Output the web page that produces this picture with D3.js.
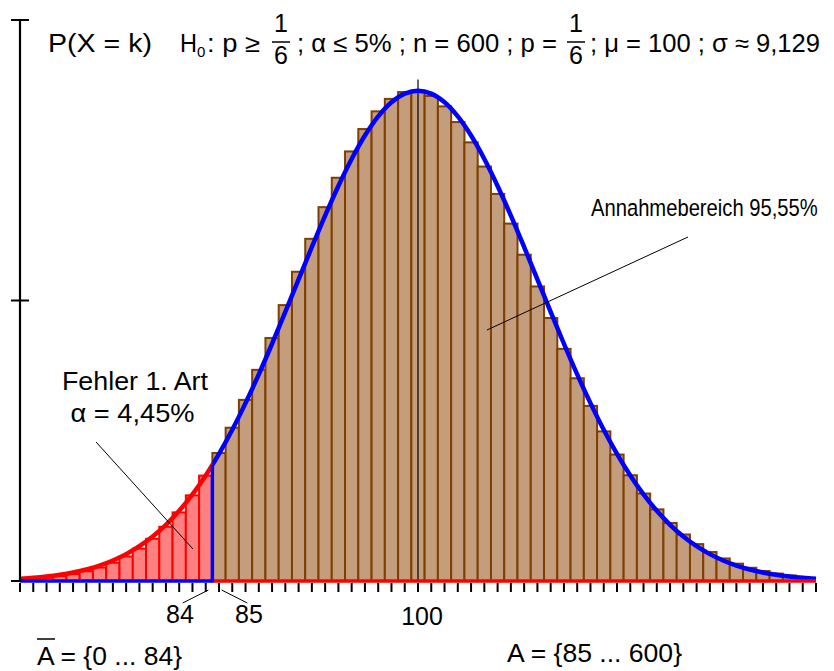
<!DOCTYPE html>
<html><head><meta charset="utf-8">
<script src="https://cdn.jsdelivr.net/npm/d3@7"></script>
<style>
body{margin:0;background:#fff}
svg{display:block}
text{font-family:"Liberation Sans",Arial,Helvetica,sans-serif;fill:#000}
</style>
</head><body>
<svg id="chart" width="834" height="671"></svg>
<script>
// ---------- data ----------
const kValues = [70,71,72,73,74,75,76,77,78,79,80,81,82,83,84,85,86,87,88,89,90,91,92,93,94,95,96,97,98,99,100,
  101,102,103,104,105,106,107,108,109,110,111,112,113,114,115,116,117,118,119,120,121,122,123,124,125,126,127,128,129,130];
// P(X = k)
const probabilities = [0.000137,0.000204,0.000299,0.000433,0.000617,0.000866,0.001197,0.001629,0.002185,0.002888,
  0.003762,0.004830,0.006114,0.007632,0.009394,0.011406,0.013661,0.016142,0.018820,0.021654,
  0.024589,0.027561,0.030497,0.033317,0.035940,0.038286,0.040280,0.041858,0.042969,0.043577,
  0.043664,0.043232,0.042300,0.040904,0.039095,0.036936,0.034497,0.031853,0.029081,0.026253,
  0.023437,0.020692,0.018069,0.015607,0.013334,0.011270,0.009424,0.007797,0.006383,0.005171,
  0.004145,0.003289,0.002583,0.002008,0.001545,0.001177,0.000887,0.000662,0.000489,0.000358,0.000259];
// smooth approximation curve (values at each k)
const curveValues = [0.000197,0.000281,0.000396,0.000551,0.000757,0.001028,0.001379,0.001828,0.002395,0.003100,
  0.003965,0.005010,0.006255,0.007717,0.009406,0.011329,0.013482,0.015854,0.018419,0.021145,
  0.023984,0.026880,0.029767,0.032570,0.035212,0.037615,0.039702,0.041405,0.042666,0.043441,
  0.043702,0.043441,0.042666,0.041405,0.039702,0.037615,0.035212,0.032570,0.029767,0.026880,
  0.023984,0.021145,0.018419,0.015854,0.013482,0.011329,0.009406,0.007717,0.006255,0.005010,
  0.003965,0.003100,0.002395,0.001828,0.001379,0.001028,0.000757,0.000551,0.000396,0.000281,0.000197];
const xTickValues = kValues;
const yTickValues = [0, 0.025, 0.05];
const criticalBoundary = 84.5;      // between 84 and 85
const boundaryDensity = 0.01034;
const muValue = 100;
const muLineTop = 0.0447;
const lastRejected = 84;
const tickLabels = ["84", "85", "100"];

// ---------- scales ----------
const svg = d3.select("#chart");
const x = d3.scaleLinear().domain([70, 130]).range([20, 816]);
const y = d3.scaleLinear().domain([0, 0.05]).range([581, 20]);

const data = kValues.map((k, i) => ({k, p: probabilities[i], c: curveValues[i]}));

const defs = svg.append("defs");
defs.append("clipPath").attr("id", "plotClip").append("rect")
  .attr("x", x(70)).attr("y", 0).attr("width", x(130) - x(70)).attr("height", 671);
defs.append("clipPath").attr("id", "leftClip").append("rect")
  .attr("x", 0).attr("y", 0).attr("width", x(criticalBoundary)).attr("height", 671);
defs.append("clipPath").attr("id", "rightClip").append("rect")
  .attr("x", x(criticalBoundary)).attr("y", 0).attr("width", 834 - x(criticalBoundary)).attr("height", 671);

// ---------- bars ----------
const bars = svg.append("g").attr("clip-path", "url(#plotClip)");
bars.selectAll("rect").data(data).join("rect")
  .attr("x", d => x(d.k - 0.5))
  .attr("width", d => x(d.k + 0.5) - x(d.k - 0.5))
  .attr("y", d => y(d.p))
  .attr("height", d => y(0) - y(d.p))
  .attr("fill", d => d.k <= lastRejected ? "#FF8080" : "#C49E7C")
  .attr("stroke", d => d.k <= lastRejected ? "#FF0000" : "#7F3F00")
  .attr("stroke-width", 2);

// mu line
svg.append("line")
  .attr("x1", x(muValue)).attr("x2", x(muValue))
  .attr("y1", y(0)).attr("y2", y(muLineTop))
  .attr("stroke", "#000").attr("stroke-width", 1.2);

// ---------- curves ----------
const line = d3.line().x(d => x(d.k)).y(d => y(d.c)).curve(d3.curveCatmullRom);
svg.append("path").datum(data).attr("d", line)
  .attr("fill", "none").attr("stroke", "#FF0000").attr("stroke-width", 4.5)
  .attr("clip-path", "url(#leftClip)");
svg.append("path").datum(data).attr("d", line)
  .attr("fill", "none").attr("stroke", "#0000FF").attr("stroke-width", 4.5)
  .attr("clip-path", "url(#rightClip)");

// baselines
svg.append("line").attr("x1", x(70)).attr("x2", x(criticalBoundary))
  .attr("y1", y(0)).attr("y2", y(0)).attr("stroke", "#0000FF").attr("stroke-width", 3.5);
svg.append("line").attr("x1", x(criticalBoundary)).attr("x2", x(130))
  .attr("y1", y(0)).attr("y2", y(0)).attr("stroke", "#FF0000").attr("stroke-width", 3.5);
svg.append("line").attr("x1", x(criticalBoundary)).attr("x2", x(criticalBoundary))
  .attr("y1", y(0) + 1.5).attr("y2", y(boundaryDensity)).attr("stroke", "#0000FF").attr("stroke-width", 3.5);

// ---------- axes ----------
svg.append("line").attr("x1", x(70)).attr("x2", x(70))
  .attr("y1", y(0.05)).attr("y2", y(0) + 1).attr("stroke", "#000").attr("stroke-width", 2.2);
svg.selectAll(".ytick").data(yTickValues).join("line").attr("class", "ytick")
  .attr("x1", 11).attr("x2", d => d === 0 ? x(70) : 29)
  .attr("y1", d => y(d)).attr("y2", d => y(d))
  .attr("stroke", "#000").attr("stroke-width", 2);
svg.selectAll(".xtick").data(xTickValues).join("line").attr("class", "xtick")
  .attr("x1", d => x(d)).attr("x2", d => x(d))
  .attr("y1", y(0) + 2).attr("y2", y(0) + 11)
  .attr("stroke", "#000").attr("stroke-width", 2);

// ---------- texts ----------
const fs = 25;
function txt(s, xx, yy, opts = {}) {
  const t = svg.append("text").attr("x", xx).attr("y", yy).attr("font-size", opts.size || fs).text(s);
  if (opts.anchor) t.attr("text-anchor", opts.anchor);
  if (opts.len) t.attr("textLength", opts.len).attr("lengthAdjust", "spacingAndGlyphs");
  return t;
}
// title
const tb = 52;
txt("P(X = k)", 48, tb, {len: 104});
txt("H", 180, tb, {len: 17});
txt("0", 197, tb + 5, {size: 15});
txt(": p ≥", 207, tb, {len: 53});
function frac(cx) {
  txt("1", cx, tb - 20, {anchor: "middle"});
  txt("6", cx, tb + 12, {anchor: "middle"});
  svg.append("line").attr("x1", cx - 9).attr("x2", cx + 9).attr("y1", tb - 10).attr("y2", tb - 10)
    .attr("stroke", "#000").attr("stroke-width", 1.5);
}
frac(281);
txt("; α ≤ 5% ; n = 600 ; p =", 297, tb, {len: 260});
frac(576);
txt("; μ = 100 ; σ ≈ 9,129", 590, tb, {len: 230});

// annotations
txt("Fehler 1. Art", 135, 390, {anchor: "middle", len: 146});
txt("α = 4,45%", 132.5, 422, {anchor: "middle", len: 124});
svg.append("line").attr("x1", x(75.73)).attr("y1", y(0.01239)).attr("x2", x(83.04)).attr("y2", y(0.00285))
  .attr("stroke", "#000").attr("stroke-width", 1);
svg.append("text").attr("transform", "translate(591,216) scale(1,1.22)")
  .attr("font-size", 20.2).text("Annahmebereich 95,55%");
svg.append("line").attr("x1", x(120.35)).attr("y1", y(0.03066)).attr("x2", x(105.2)).attr("y2", y(0.02237))
  .attr("stroke", "#000").attr("stroke-width", 1);

// x tick labels
txt(tickLabels[0], 180, 623, {anchor: "middle"});
txt(tickLabels[1], 249, 623, {anchor: "middle"});
txt(tickLabels[2], 422, 625, {anchor: "middle"});
svg.append("line").attr("x1", 182.7).attr("y1", 603).attr("x2", x(84.2)).attr("y2", 590).attr("stroke", "#000").attr("stroke-width", 1);
svg.append("line").attr("x1", x(85.2)).attr("y1", 590).attr("x2", 247.3).attr("y2", 603).attr("stroke", "#000").attr("stroke-width", 1);

// sets
txt("A = {0 ... 84}", 37, 665, {len: 145});
svg.append("line").attr("x1", 37).attr("x2", 55).attr("y1", 639).attr("y2", 639).attr("stroke", "#000").attr("stroke-width", 1.5);
txt("A = {85 ... 600}", 507, 662, {len: 175});
</script>
</body></html>
